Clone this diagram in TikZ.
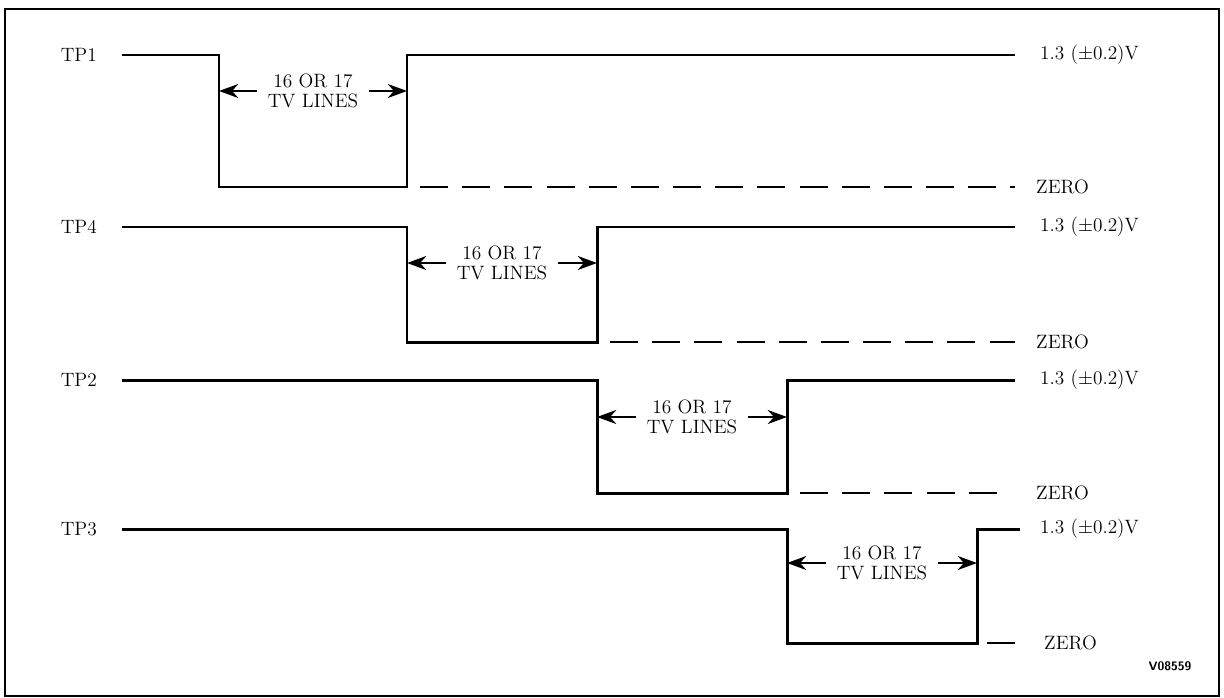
\documentclass[tikz,border=0pt]{standalone}
\usetikzlibrary{arrows.meta,positioning}
\tikzstyle{frame} = [line width=1.1pt]
\tikzstyle{pulse} = [line width=1.7pt]
\tikzstyle{zero} = [line width=1.3pt, dash pattern=on 16pt off 8pt]
\tikzset{arrow/.style={line width=1.1pt, -{Stealth[length=11pt,width=8pt]}}}
\tikzstyle{lines} = [align=center, inner sep=6pt, font=\fontsize{11}{11.5}\selectfont]
\tikzstyle{tp} = [anchor=east, font=\fontsize{11}{12}\selectfont]
\tikzstyle{lvl} = [anchor=west, font=\fontsize{11}{12}\selectfont]
\begin{document}
\begin{tikzpicture}[x=0.02cm,y=-0.02cm]
\useasboundingbox (0,0) rectangle (1224,697);
\draw [frame] (5,9) rectangle (1219,696);

% TP1
\node (tp1) [tp] at (103,55) {TP1};
\draw [pulse] (122,55) -| (219,187) -| (407,55) -- (1015,55);
\draw [zero] (420,187) -- (1015,187);
\node (hi1) [lvl] at (1034,55) {1.3 ($\pm$0.2)V};
\node (lo1) [lvl] at (1030,187) {ZERO};
\coordinate (fall1) at (219,91);
\coordinate (rise1) at (407,91);
\node (w1) [lines] at (313,91) {16 OR 17\\TV LINES};
\draw [arrow] (w1.west) -- (fall1);
\draw [arrow] (w1.east) -- (rise1);

% TP4
\node (tp4) [tp] at (103,227) {TP4};
\draw [pulse] (122,227) -| (407,342) -| (597,227) -- (1015,227);
\draw [zero] (610,342) -- (1015,342);
\node (hi4) [lvl] at (1034,227) {1.3 ($\pm$0.2)V};
\node (lo4) [lvl] at (1030,342) {ZERO};
\coordinate (fall4) at (407,263);
\coordinate (rise4) at (597,263);
\node (w4) [lines] at (502,263) {16 OR 17\\TV LINES};
\draw [arrow] (w4.west) -- (fall4);
\draw [arrow] (w4.east) -- (rise4);

% TP2
\node (tp2) [tp] at (103,380) {TP2};
\draw [pulse] (122,380) -| (597,493) -| (787,380) -- (1015,380);
\draw [zero] (800,493) -- (1008,493);
\node (hi2) [lvl] at (1034,380) {1.3 ($\pm$0.2)V};
\node (lo2) [lvl] at (1030,493) {ZERO};
\coordinate (fall2) at (597,417);
\coordinate (rise2) at (787,417);
\node (w2) [lines] at (692,417) {16 OR 17\\TV LINES};
\draw [arrow] (w2.west) -- (fall2);
\draw [arrow] (w2.east) -- (rise2);

% TP3
\node (tp3) [tp] at (103,529) {TP3};
\draw [pulse] (122,529) -| (787,643) -| (977,529) -- (1020,529);
\draw [zero] (987,643) -- (1018,643);
\node (hi3) [lvl] at (1034,529) {1.3 ($\pm$0.2)V};
\node (lo3) [lvl] at (1038,643) {ZERO};
\coordinate (fall3) at (787,563);
\coordinate (rise3) at (977,563);
\node (w3) [lines] at (882,563) {16 OR 17\\TV LINES};
\draw [arrow] (w3.west) -- (fall3);
\draw [arrow] (w3.east) -- (rise3);

\node (ref) at (1170,666) {\scriptsize\sffamily\bfseries V08559};
\end{tikzpicture}
\end{document}
